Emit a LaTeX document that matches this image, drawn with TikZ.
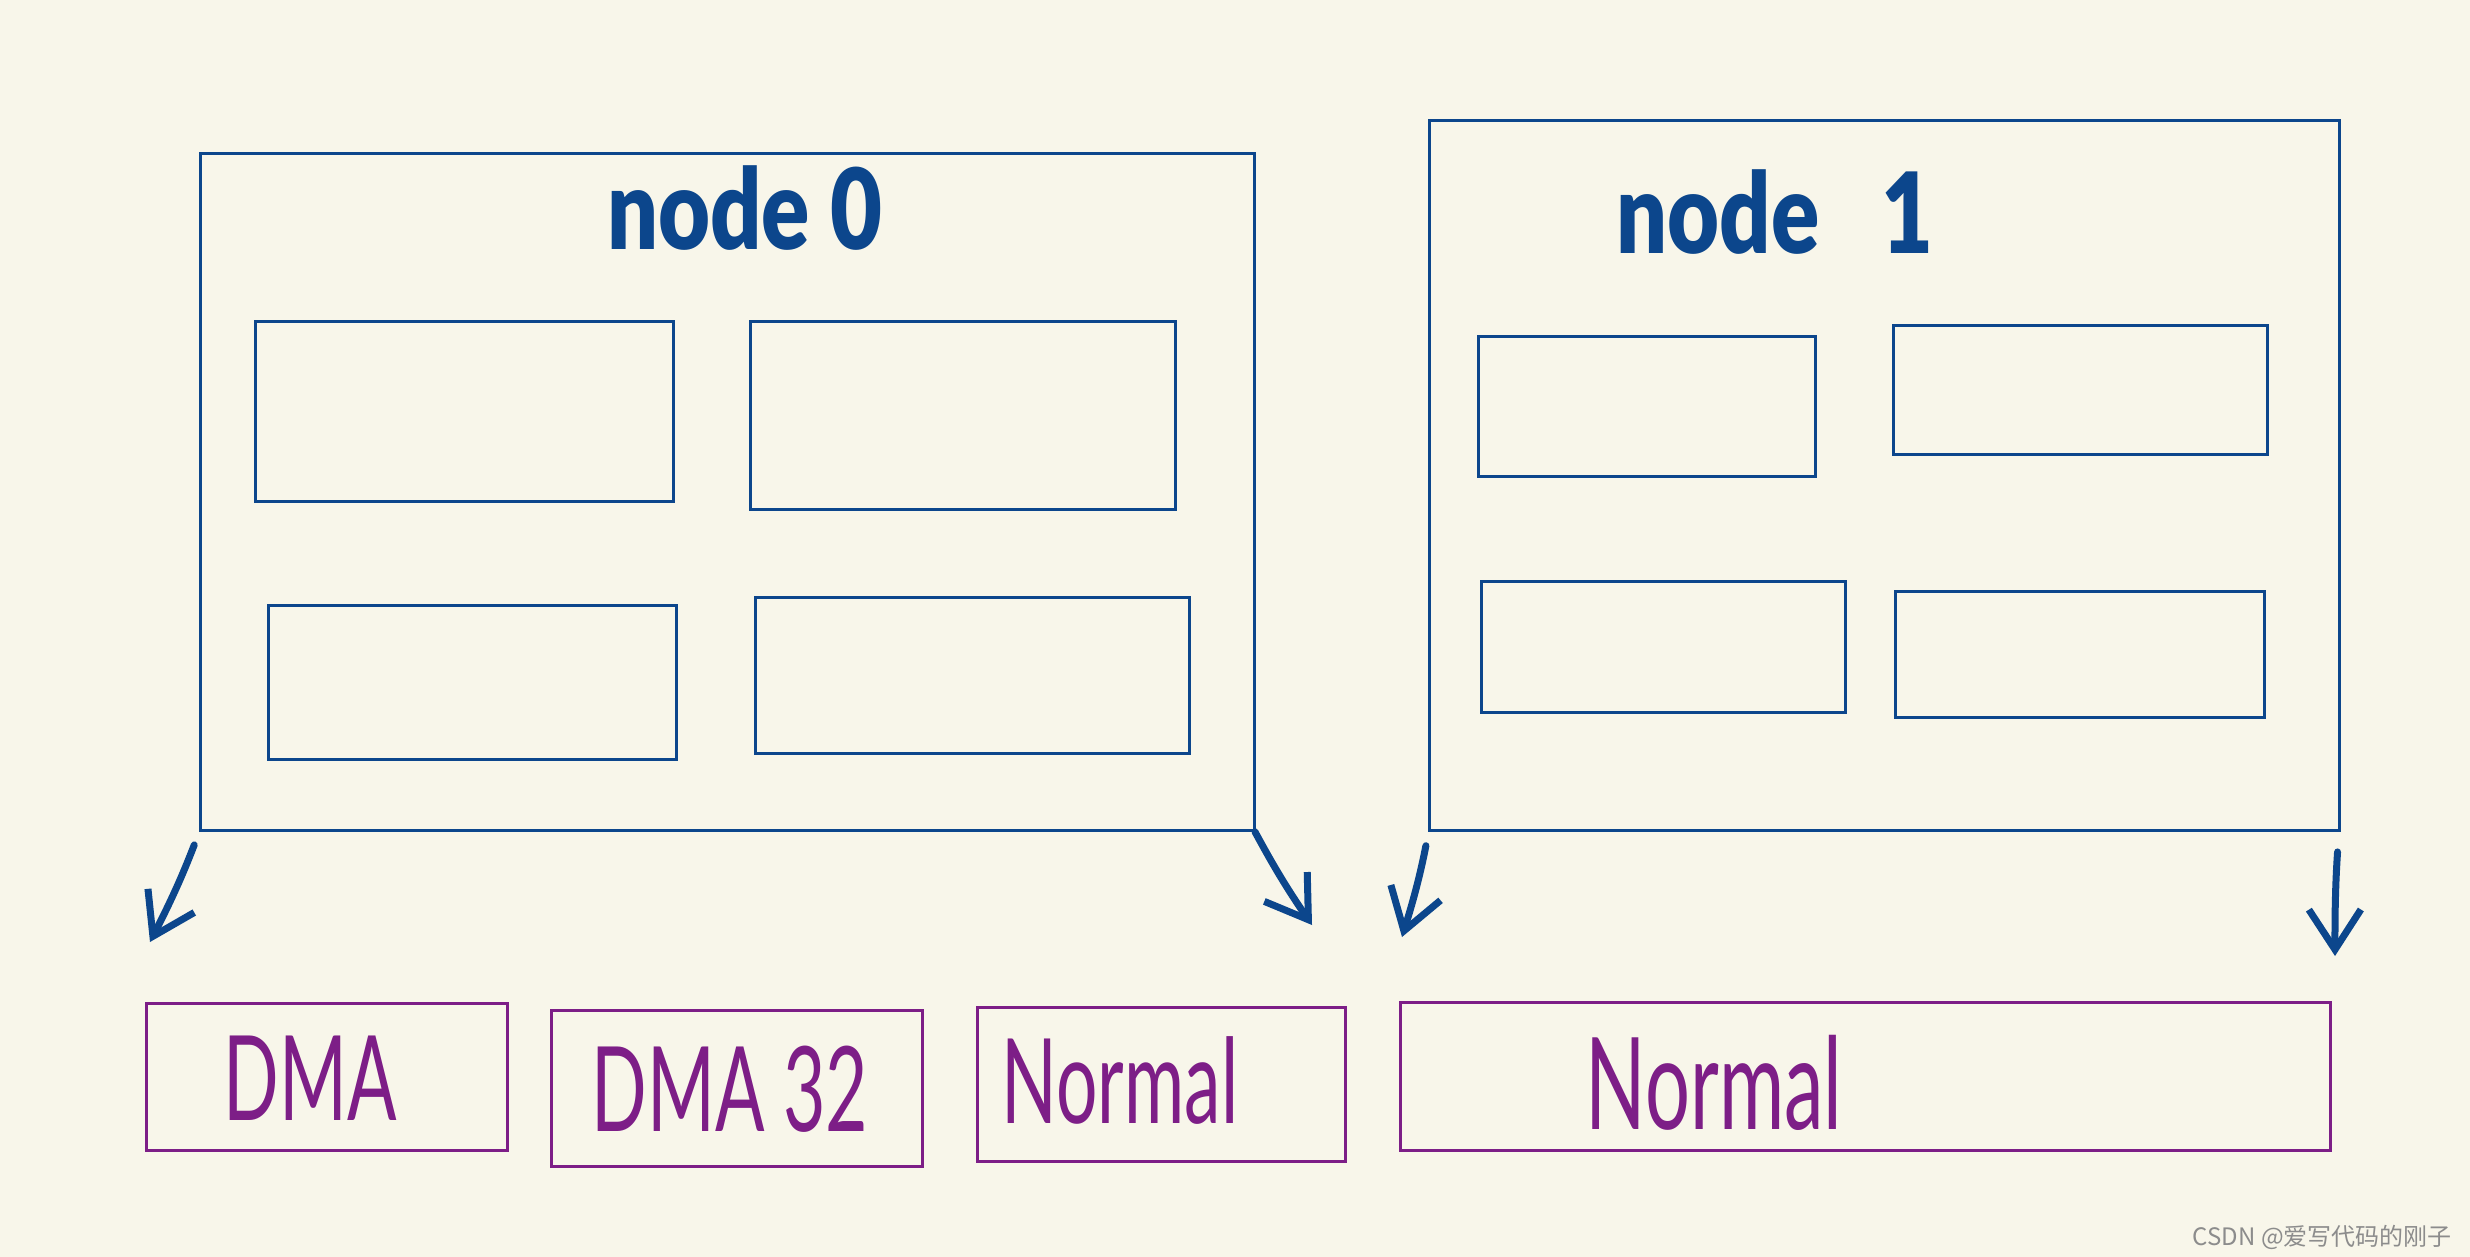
\documentclass[tikz,border=0pt]{standalone}
\usepackage{fontspec}
\setmainfont{Lato}
\newfontfamily\handfont[FakeStretch=0.62]{Lato}
\newfontfamily\headfont[FakeStretch=0.8]{Lato Black}
\newfontfamily\cjkfont{Noto Sans CJK SC}
\usepackage{tikz}
\usetikzlibrary{arrows.meta,calc,positioning}
\definecolor{paper}{RGB}{248,246,234}
\definecolor{ink}{RGB}{12,70,140}
\definecolor{plum}{RGB}{125,30,135}
\tikzstyle{frame}=[
  draw=ink,
  line width=3pt,
  inner sep=0pt,
  outer sep=0pt,
]
\tikzstyle{zone}=[
  draw=plum,
  line width=3pt,
  inner sep=0pt,
  outer sep=0pt,
]
\tikzstyle{title}=[
  text=ink,
  inner sep=0pt,
  font={\fontsize{112}{116}\selectfont\headfont},
]
\tikzstyle{tag}=[
  text=plum,
  inner sep=0pt,
  font={\fontsize{118}{120}\selectfont\handfont},
]
\tikzstyle{arrow}=[
  draw=ink,
  line width=7pt,
  line cap=round,
  -{Straight Barb[length=40pt,width=52pt,line width=7pt]},
]
\tikzset{
  x=1pt,
  y=-1pt,
}

\begin{document}
\begin{tikzpicture}
      \fill [paper] (0,0) rectangle (2470,1257);
      \useasboundingbox (0,0) rectangle (2470,1257);
      % node 0
      \node [frame, minimum width=1054pt, minimum height=676pt] (N0) at (727,492) {};
      \node [title] (N0TITLE) at (745,208) {node 0};
      \node [frame, minimum width=418pt, minimum height=180pt] (N0A) at (464,411) {};
      \node [frame, minimum width=425pt, minimum height=188pt] (N0B) at (962.5,415) {};
      \node [frame, minimum width=408pt, minimum height=154pt] (N0C) at (472,682) {};
      \node [frame, minimum width=434pt, minimum height=156pt] (N0D) at (972,675) {};
      % node 1
      \node [frame, minimum width=910pt, minimum height=709pt] (N1) at (1884,475.5) {};
      \node [title] (N1TITLE) at (1775,212) {node\hspace{62pt}1};
      \node [frame, minimum width=337pt, minimum height=140pt] (N1A) at (1646.5,406) {};
      \node [frame, minimum width=374pt, minimum height=129pt] (N1B) at (2080,389.5) {};
      \node [frame, minimum width=364pt, minimum height=131pt] (N1C) at (1663,646.5) {};
      \node [frame, minimum width=369pt, minimum height=126pt] (N1D) at (2079.5,654) {};
      % zones
      \node [zone, minimum width=361pt, minimum height=147pt] (DMA) at (326.5,1076.5) {};
      \node [zone, minimum width=371pt, minimum height=156pt] (DMAXX) at (736.5,1088) {};
      \node [zone, minimum width=368pt, minimum height=154pt] (NORM0) at (1161,1084) {};
      \node [zone, minimum width=930pt, minimum height=148pt] (NORM1) at (1865,1076) {};
      \node [tag] (DMATXT) at (310,1078) {DMA};
      \node [tag] (DMAXXTXT) at (730,1089) {DMA 32};
      \node [tag] (NORM0TXT) at (1120,1081) {Normal};
      \node [tag, font={\fontsize{128}{130}\selectfont\handfont}] (NORM1TXT) at (1714,1083) {Normal};
      % spans
      \coordinate (TIPA) at (150,942);
      \coordinate (TIPB) at (1312,925);
      \coordinate (TIPC) at (1402,937);
      \coordinate (TIPD) at (2335,956);
      \draw [arrow, shorten <=16pt] (N0.south west) to [bend left=3] (TIPA);
      \draw [arrow, shorten <=2pt] (N0.south east) to [bend right=3] (TIPB);
      \draw [arrow, shorten <=16pt] (N1.south west) to [bend left=3] (TIPC);
      \draw [arrow, shorten <=22pt] (N1.south east) to [bend right=2] (TIPD);
      \node [anchor=east, inner sep=0pt, text=black!45, font={\fontsize{24}{26}\selectfont\cjkfont}] (MARK) at (2452,1237) {CSDN @爱写代码的刚子};
    \end{tikzpicture}
\end{document}
